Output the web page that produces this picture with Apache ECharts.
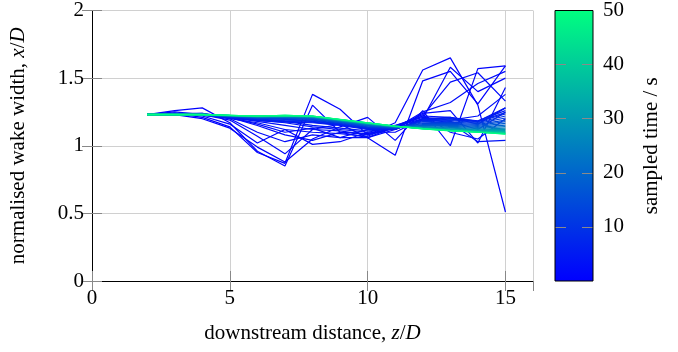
<!DOCTYPE html>
<html>
<head>
<meta charset="utf-8">
<script src="https://cdn.jsdelivr.net/npm/echarts@6/dist/echarts.min.js"></script>
<style>
  html, body {margin: 0; background: #fff;}
  #chart {width: 678px; height: 352px;}
</style>
</head>
<body>
<div id="chart"></div>
<script>
// downstream stations z/D
const zPos = [2, 3, 4, 5, 6, 7, 8, 9, 10, 11, 12, 13, 14, 15];

// sampled time of each curve (s)
const sampleTimes = [0.33, 0.67, 1, 1.33, 1.67, 2, 2.33, 2.67, 3, 3.5, 4, 4.5,
  5, 6, 7, 8, 10, 12, 14, 16, 18, 20, 23, 26, 29, 32, 35, 38, 41, 44, 47, 50];

// normalised wake width x/D, one row per sampled time
const wakeWidths = [
  [1.23, 1.26, 1.28, 1.17, 0.96, 0.85, 1.30, 1.10, 1.06, 0.93, 1.48, 1.55, 1.31, 1.59],
  [1.23, 1.24, 1.21, 1.14, 0.95, 0.87, 1.38, 1.27, 1.08, 1.17, 1.56, 1.65, 1.30, 0.51],
  [1.23, 1.23, 1.20, 1.13, 0.99, 0.88, 1.05, 1.14, 1.21, 1.04, 1.26, 1.00, 1.57, 1.59],
  [1.23, 1.24, 1.22, 1.16, 1.02, 1.12, 1.01, 1.03, 1.10, 1.10, 1.20, 1.58, 1.40, 1.50],
  [1.23, 1.25, 1.23, 1.19, 1.07, 0.94, 1.12, 1.16, 1.06, 1.12, 1.24, 1.26, 1.02, 1.43],
  [1.23, 1.24, 1.24, 1.20, 1.10, 1.03, 1.08, 1.06, 1.12, 1.15, 1.22, 1.47, 1.54, 1.33],
  [1.23, 1.24, 1.23, 1.21, 1.15, 1.08, 1.04, 1.10, 1.09, 1.13, 1.25, 1.32, 1.46, 1.55],
  [1.23, 1.23, 1.24, 1.21, 1.16, 1.10, 1.13, 1.06, 1.06, 1.14, 1.23, 1.10, 1.05, 1.20],
  [1.23, 1.23, 1.23, 1.20, 1.17, 1.12, 1.10, 1.09, 1.07, 1.15, 1.21, 1.19, 1.22, 1.38],
  [1.23, 1.23, 1.23, 1.21, 1.18, 1.15, 1.12, 1.11, 1.08, 1.13, 1.22, 1.21, 1.16, 1.28],
  [1.23, 1.23, 1.23, 1.21, 1.19, 1.17, 1.14, 1.12, 1.10, 1.14, 1.20, 1.17, 1.03, 1.04],
  [1.23, 1.23, 1.23, 1.22, 1.19, 1.18, 1.15, 1.13, 1.11, 1.12, 1.19, 1.18, 1.12, 1.25],
  [1.226, 1.228, 1.224, 1.205, 1.185, 1.175, 1.170, 1.150, 1.120, 1.120, 1.200, 1.210, 1.180, 1.280],
  [1.236, 1.235, 1.232, 1.208, 1.190, 1.180, 1.175, 1.155, 1.125, 1.122, 1.195, 1.205, 1.185, 1.260],
  [1.228, 1.229, 1.226, 1.210, 1.193, 1.185, 1.180, 1.158, 1.128, 1.125, 1.190, 1.200, 1.180, 1.245],
  [1.234, 1.234, 1.232, 1.212, 1.196, 1.190, 1.185, 1.162, 1.132, 1.127, 1.185, 1.192, 1.178, 1.235],
  [1.225, 1.227, 1.226, 1.214, 1.200, 1.195, 1.190, 1.166, 1.136, 1.128, 1.178, 1.185, 1.172, 1.220],
  [1.237, 1.236, 1.234, 1.216, 1.203, 1.200, 1.195, 1.170, 1.140, 1.130, 1.170, 1.175, 1.165, 1.205],
  [1.229, 1.230, 1.228, 1.217, 1.206, 1.204, 1.198, 1.173, 1.144, 1.132, 1.163, 1.166, 1.158, 1.190],
  [1.233, 1.233, 1.232, 1.218, 1.208, 1.207, 1.201, 1.176, 1.148, 1.134, 1.157, 1.158, 1.150, 1.178],
  [1.227, 1.228, 1.227, 1.219, 1.210, 1.210, 1.204, 1.179, 1.151, 1.136, 1.151, 1.150, 1.143, 1.165],
  [1.235, 1.235, 1.233, 1.220, 1.212, 1.212, 1.206, 1.181, 1.154, 1.137, 1.146, 1.143, 1.136, 1.153],
  [1.226, 1.227, 1.227, 1.221, 1.213, 1.215, 1.209, 1.184, 1.157, 1.139, 1.141, 1.136, 1.129, 1.141],
  [1.234, 1.234, 1.233, 1.222, 1.215, 1.217, 1.211, 1.186, 1.160, 1.140, 1.137, 1.130, 1.122, 1.130],
  [1.228, 1.229, 1.228, 1.222, 1.216, 1.219, 1.213, 1.188, 1.162, 1.141, 1.134, 1.125, 1.117, 1.121],
  [1.236, 1.235, 1.234, 1.223, 1.217, 1.220, 1.215, 1.190, 1.164, 1.142, 1.131, 1.121, 1.112, 1.113],
  [1.227, 1.228, 1.228, 1.223, 1.218, 1.221, 1.216, 1.191, 1.166, 1.143, 1.129, 1.118, 1.108, 1.105],
  [1.233, 1.233, 1.232, 1.224, 1.219, 1.222, 1.217, 1.192, 1.167, 1.144, 1.128, 1.115, 1.105, 1.099],
  [1.229, 1.229, 1.229, 1.224, 1.219, 1.223, 1.218, 1.193, 1.168, 1.144, 1.127, 1.113, 1.103, 1.094],
  [1.234, 1.233, 1.232, 1.225, 1.220, 1.224, 1.219, 1.194, 1.169, 1.145, 1.126, 1.112, 1.101, 1.090],
  [1.228, 1.229, 1.229, 1.225, 1.220, 1.224, 1.219, 1.194, 1.169, 1.145, 1.125, 1.111, 1.100, 1.087],
  [1.231, 1.231, 1.230, 1.225, 1.220, 1.225, 1.220, 1.195, 1.170, 1.145, 1.125, 1.110, 1.100, 1.085]
];

const xTicks = [0, 5, 10, 15];
const yTicks = [0, 0.5, 1, 1.5, 2];
const cbarTicks = [10, 20, 30, 40, 50];

const serif = "'Liberation Serif', 'DejaVu Serif', serif";
const fs = 21;
const tMin = 0.33, tMax = 50;

// pgfplots "winter" map: blue -> spring green
function winter(t) {
  const f = (t - tMin) / (tMax - tMin);
  return 'rgb(0,' + Math.round(255 * f) + ',' + Math.round(255 * (1 - 0.5 * f)) + ')';
}

const frameAxis = {
  axisLine: {show: true, lineStyle: {color: '#000', width: 1}},
  axisTick: {show: true, inside: true, length: 10, lineStyle: {color: '#888'}},
};

const mathName = {
  n: {fontFamily: serif, fontSize: fs, color: '#000'},
  m: {fontFamily: serif, fontSize: fs, fontStyle: 'italic', color: '#000'}
};

const chart = echarts.init(document.getElementById('chart'));
chart.setOption({
  animation: false,
  textStyle: {fontFamily: serif},
  grid: [
    {left: 92, right: 145, top: 9, bottom: 71},
    {left: 555, width: 38, top: 9, bottom: 71, show: true, z: 5,
      borderColor: '#000', borderWidth: 1, backgroundColor: 'transparent'}
  ],
  xAxis: [
    {
      type: 'value', gridIndex: 0, min: 0, max: 16, interval: 5, position: 'bottom',
      ...frameAxis,
      axisLabel: {color: '#000', fontSize: fs, margin: 7, showMaxLabel: false,
        formatter: v => xTicks.includes(v) ? String(v) : ''},
      splitLine: {show: true, lineStyle: {color: '#d0d0d0', width: 1}},
      name: '{n|downstream distance, }{m|z}{n|/}{m|D}',
      nameLocation: 'middle', nameGap: 42,
      nameTextStyle: {rich: mathName}
    },
    {
      type: 'value', gridIndex: 0, min: 0, max: 16, interval: 5, position: 'top',
      ...frameAxis, axisLabel: {show: false}, splitLine: {show: false}
    },
    {
      type: 'category', gridIndex: 1, data: ['c'], show: false
    }
  ],
  yAxis: [
    {
      type: 'value', gridIndex: 0, min: 0, max: 2, interval: 0.5, position: 'left',
      ...frameAxis,
      axisLabel: {color: '#000', fontSize: fs, margin: 8,
        formatter: v => yTicks.includes(v) ? String(v) : ''},
      splitLine: {show: true, lineStyle: {color: '#d0d0d0', width: 1}},
      name: '{n|normalised wake width, }{m|x}{n|/}{m|D}',
      nameLocation: 'middle', nameGap: 63, nameRotate: 90,
      nameTextStyle: {rich: mathName}
    },
    {
      type: 'value', gridIndex: 0, min: 0, max: 2, interval: 0.5, position: 'right',
      ...frameAxis, axisLabel: {show: false}, splitLine: {show: false}
    },
    {
      type: 'value', gridIndex: 1, min: 0, max: 50, interval: 10, position: 'right', z: 3,
      axisLine: {show: false}, axisTick: {show: false},
      axisLabel: {color: '#000', fontSize: fs, margin: 10, showMinLabel: false,
        formatter: v => cbarTicks.includes(v) ? String(v) : ''},
      splitLine: {show: true, showMinLine: false, showMaxLine: false,
        lineStyle: {color: '#8a8a8a', width: 1, type: [11, 16]}},
      name: 'sampled time / s', nameLocation: 'middle', nameGap: 48, nameRotate: 90,
      nameTextStyle: {fontFamily: serif, fontSize: fs, color: '#000'}
    }
  ],
  series: [
    ...sampleTimes.map((t, k) => ({
      type: 'line',
      xAxisIndex: 0, yAxisIndex: 0,
      data: zPos.map((z, i) => [z, wakeWidths[k][i]]),
      symbol: 'none',
      lineStyle: {width: 1.2, color: winter(t)},
      z: 2 + k / 100
    })),
    {
      type: 'bar',
      xAxisIndex: 2, yAxisIndex: 2,
      data: [tMax],
      barWidth: '100%',
      itemStyle: {color: new echarts.graphic.LinearGradient(0, 0, 0, 1, [
        {offset: 0, color: winter(tMax)},
        {offset: 1, color: winter(tMin)}
      ])}
    }
  ]
});
</script>
</body>
</html>
